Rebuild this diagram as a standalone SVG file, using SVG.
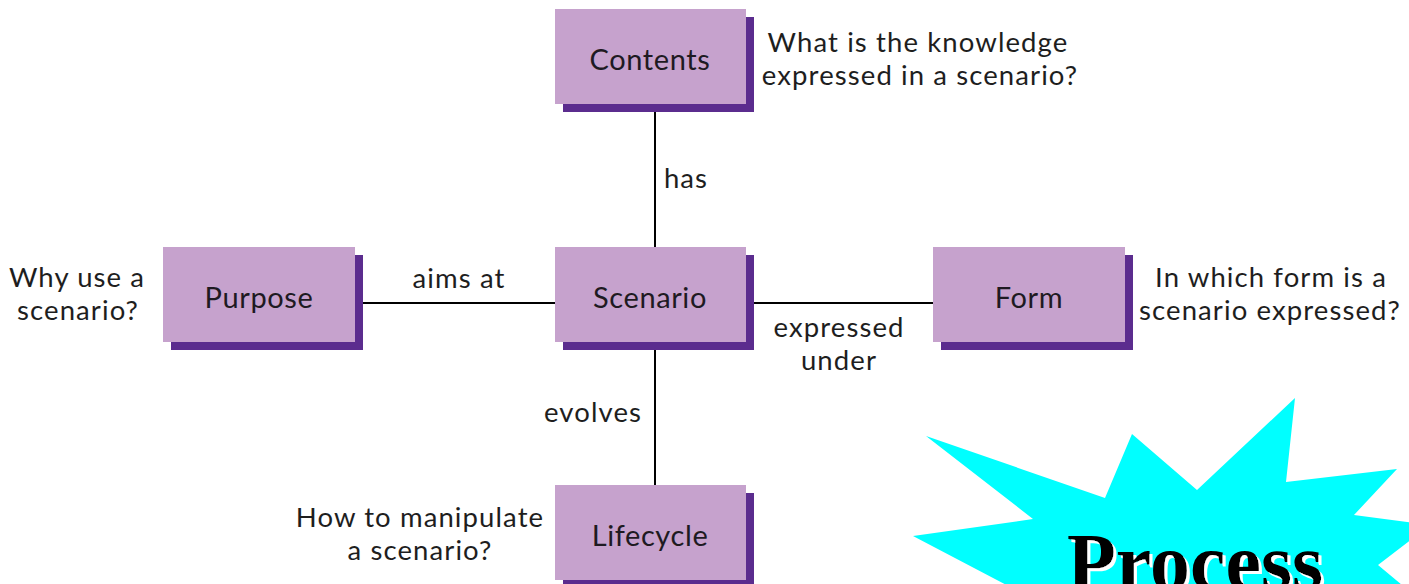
<svg xmlns="http://www.w3.org/2000/svg" width="1409" height="584" viewBox="0 0 1409 584">
  <style>
    .box { fill: #C6A2CD; }
    .shadow { fill: #5B2C8E; }
    .name { font-family: Lato, "Noto Sans", "Liberation Sans", sans-serif; font-size: 29px; letter-spacing: 0.6px; fill: #1e1a22; text-anchor: middle; }
    .note { font-family: Lato, "Noto Sans", "Liberation Sans", sans-serif; font-size: 27.5px; letter-spacing: 1.1px; fill: #1e1e1e; text-anchor: middle; }
    .edge { stroke: #000; stroke-width: 2; fill: none; }
    .burst-text { font-family: "Liberation Serif", "Times New Roman", serif; font-weight: bold; font-size: 80px; fill: #000; }
  </style>
  <defs>
    <!-- white offset copy of the glyphs drawn behind the black lettering -->
    <filter id="white-shadow" x="-5%" y="-10%" width="115%" height="130%">
      <feFlood flood-color="#ffffff" result="white"/>
      <feComposite in="white" in2="SourceAlpha" operator="in" result="mask"/>
      <feOffset in="mask" dx="3" dy="3" result="offset"/>
      <feMerge>
        <feMergeNode in="offset"/>
        <feMergeNode in="SourceGraphic"/>
      </feMerge>
    </filter>
  </defs>

  <rect width="1409" height="584" fill="#ffffff"/>

  <!-- connectors between the central node and its four neighbours -->
  <g id="connectors">
    <line class="edge" x1="655" y1="104" x2="655" y2="247"/>
    <line class="edge" x1="655" y1="342" x2="655" y2="485"/>
    <line class="edge" x1="355" y1="303" x2="555" y2="303"/>
    <line class="edge" x1="746" y1="303" x2="933" y2="303"/>
    <text class="note" x="686" y="188">has</text>
    <text class="note" x="459" y="288">aims at</text>
    <text class="note" x="839" y="337">expressed</text>
    <text class="note" x="839" y="370">under</text>
    <text class="note" x="593" y="422">evolves</text>
  </g>

  <g id="contents">
    <rect class="shadow" x="563" y="17" width="191" height="95"/>
    <rect class="box" x="555" y="9" width="191" height="95"/>
    <text class="name" x="650" y="70">Contents</text>
    <text class="note" x="918" y="52">What is the knowledge</text>
    <text class="note" x="920" y="85">expressed in a scenario?</text>
  </g>

  <g id="scenario">
    <rect class="shadow" x="563" y="255" width="191" height="95"/>
    <rect class="box" x="555" y="247" width="191" height="95"/>
    <text class="name" x="650" y="308">Scenario</text>
  </g>

  <g id="purpose">
    <rect class="shadow" x="171" y="255" width="192" height="95"/>
    <rect class="box" x="163" y="247" width="192" height="95"/>
    <text class="name" x="259" y="308">Purpose</text>
    <text class="note" x="77" y="287">Why use a</text>
    <text class="note" x="78" y="320">scenario?</text>
  </g>

  <g id="form">
    <rect class="shadow" x="941" y="255" width="192" height="95"/>
    <rect class="box" x="933" y="247" width="192" height="95"/>
    <text class="name" x="1029" y="308">Form</text>
    <text class="note" x="1271" y="287">In which form is a</text>
    <text class="note" x="1270" y="320">scenario expressed?</text>
  </g>

  <g id="lifecycle">
    <rect class="shadow" x="563" y="493" width="191" height="95"/>
    <rect class="box" x="555" y="485" width="191" height="95"/>
    <text class="name" x="650" y="546">Lifecycle</text>
    <text class="note" x="420" y="527">How to manipulate</text>
    <text class="note" x="420" y="560">a scenario?</text>
  </g>

  <!-- starburst callout -->
  <g id="process">
    <polygon fill="#00FFFF" points="926,436 1105,498 1132,434 1197,490 1295,398 1286,482 1397,469 1354,515 1430,525 1378,565 1420,600 1035,600 913,536 1033,519"/>
    <text class="burst-text" x="1067" y="589" filter="url(#white-shadow)">Process</text>
  </g>
</svg>
